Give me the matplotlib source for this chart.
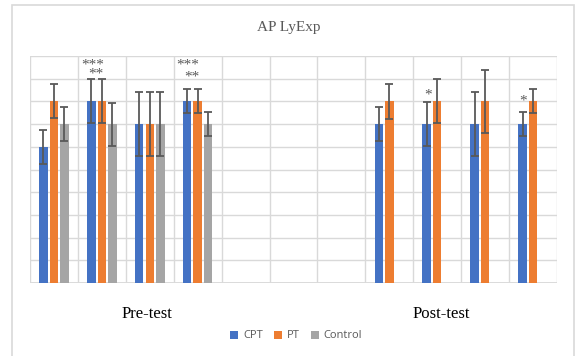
import numpy as np
import matplotlib.pyplot as plt
from matplotlib.patches import Rectangle

nan = np.nan

# 11 category slots: 4 pre-test groups, 3 empty slots, 4 post-test groups
series = ['CPT', 'PT', 'Control']
cpt_mean = [6, 8, 7, 8, nan, nan, nan, 7, 7, 7, 7]
pt_mean = [8, 8, 7, 8, nan, nan, nan, 8, 8, 8, 8]
ctrl_mean = [7, 7, 7, 7, nan, nan, nan, nan, nan, nan, nan]
cpt_err = [0.75, 0.97, 1.4, 0.53, nan, nan, nan, 0.75, 0.96, 1.4, 0.52]
pt_err = [0.75, 0.97, 1.4, 0.53, nan, nan, nan, 0.76, 0.97, 1.4, 0.53]
ctrl_err = [0.75, 0.95, 1.4, 0.52, nan, nan, nan, nan, nan, nan, nan]

# significance marks: (category, text, y, line spacing)
marks = [(1, '***\n**', 9.4, 0.55), (3, '***\n**', 9.35, 0.9),
         (8, '*', 8.3, 1.0), (10, '*', 8.0, 1.0)]

colors = ['#4472C4', '#ED7D31', '#A5A5A5']
offsets = [-0.22, 0.0, 0.22]
width = 0.175

W, H = 578, 356
fig = plt.figure(figsize=(W / 100, H / 100), dpi=100)
ax = fig.add_axes([30 / W, 1 - 283 / H, 527 / W, 227 / H])

x = np.arange(len(cpt_mean))
means = [cpt_mean, pt_mean, ctrl_mean]
errs = [cpt_err, pt_err, ctrl_err]
handles = []
for i in range(3):
    h = ax.bar(x + offsets[i], means[i], width=width, color=colors[i],
               label=series[i], zorder=2)
    ax.errorbar(x + offsets[i], means[i], yerr=errs[i], fmt='none',
                ecolor='#595959', elinewidth=1.3, capsize=3, capthick=1.3,
                zorder=3)
    handles.append(h)

for cat, txt, y, ls in marks:
    ax.text(cat + offsets[0] + 0.02, y, txt, ha='center', va='center',
            multialignment='right', linespacing=ls,
            fontsize=11, color='#595959', family='Liberation Serif')

ax.set_xlim(-0.5, 10.5)
ax.set_ylim(0, 10)
ax.set_yticks(np.arange(0, 11, 1))
ax.set_xticks(np.arange(-0.5, 11, 1))
ax.tick_params(length=0, labelleft=False, labelbottom=False)
ax.grid(True, color='#D9D9D9', linewidth=1, zorder=0)
ax.set_axisbelow(True)
for s in ax.spines.values():
    s.set_visible(False)
ax.axhline(0, color='#D9D9D9', linewidth=1.3, zorder=1)

fig.text(289 / W, 1 - 27 / H, 'AP LyExp', ha='center', va='center',
         fontsize=11, color='#595959', family='Liberation Serif')
fig.text(147 / W, 1 - 314 / H, 'Pre-test', ha='center', va='center',
         fontsize=12, color='black', family='Liberation Serif')
fig.text(441 / W, 1 - 314 / H, 'Post-test', ha='center', va='center',
         fontsize=12, color='black', family='Liberation Serif')

fig.legend(handles=handles, loc='center', bbox_to_anchor=(296 / W, 1 - 336 / H),
           ncol=3, frameon=False, handlelength=0.75, handleheight=0.75,
           handletextpad=0.4, columnspacing=1.0,
           prop={'family': 'Open Sans', 'size': 8}, labelcolor='#595959')

fig.patches.append(Rectangle((12 / W, -0.1), 562 / W, 1.1 - 5 / H,
                             transform=fig.transFigure, fill=False,
                             edgecolor='#D9D9D9', linewidth=1.2))

fig.savefig('out.png', dpi=100)
